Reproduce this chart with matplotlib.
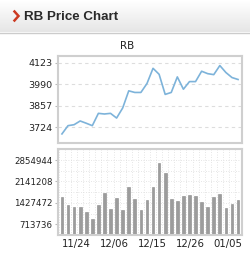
import numpy as np
import matplotlib
matplotlib.use('Agg')
import matplotlib.pyplot as plt

# RB daily close
prices = [3683, 3734, 3740, 3763, 3749, 3734, 3810, 3806, 3810, 3781,
          3843, 3949, 3939, 3939, 3994, 4088, 4051, 3927, 3939, 4035,
          3959, 4006, 4006, 4070, 4055, 4049, 4105, 4062, 4031, 4019]

# daily volume
volumes = [1614000, 1340000, 1285000, 1285000, 1131000, 889000, 1340000, 1757000,
           1219000, 1592000, 1197000, 1955000, 1570000, 1197000, 1515000, 1944000,
           2767000, 2416000, 1548000, 1504000, 1669000, 1691000, 1647000, 1449000,
           1285000, 1614000, 1713000, 1263000, 1394000, 1537000]

price_ticks = [3724, 3857, 3990, 4123]
vol_ticks = [713736, 1427472, 2141208, 2854944]
date_labels = ['11/24', '12/06', '12/15', '12/26', '01/05']
date_pos = [2.4, 8.7, 14.85, 21.2, 27.3]

W, H = 250, 263
fig = plt.figure(figsize=(W / 100, H / 100), dpi=100)
fig.patch.set_facecolor('white')

# header strip with a light gradient
hdr = fig.add_axes([0, 1 - 32 / H, 1, 32 / H])
grad = np.linspace(1.0, 0.9, 64).reshape(-1, 1)
hdr.imshow(grad, cmap='gray', vmin=0, vmax=1, aspect='auto', extent=[0, W, 32, 0])
hdr.set_xlim(0, W)
hdr.set_ylim(32, 0)
hdr.axis('off')
# red chevron
hdr.plot([14.5, 18.5, 14.5], [11.5, 16, 20.5], color='#cc3a22', lw=1.8,
         solid_joinstyle='miter')
hdr.text(24, 16.5, 'RB Price Chart', color='#2a2a2a', fontsize=9.6,
         fontweight='bold', va='center', ha='left', family='Liberation Sans')
fig.add_artist(plt.Line2D([0, 1], [1 - 32.5 / H, 1 - 32.5 / H], color='#cccccc', lw=1))

frame_col = '#cfcfcf'
x = np.arange(len(prices))


def style(ax, size):
    for s in ax.spines.values():
        s.set_color(frame_col)
        s.set_linewidth(1.5)
    ax.tick_params(axis='y', length=2, color='#bbbbbb', labelsize=size, pad=2,
                   labelcolor='#222222')
    ax.set_xlim(-0.65, len(prices) - 0.35)


ax1 = fig.add_axes([58 / W, 1 - 143 / H, 184 / W, 87 / H])
ax1.plot(x, prices, color='#7db3da', lw=1.2)
ax1.set_ylim(3627, 4164)
ax1.set_yticks(price_ticks)
ax1.set_yticklabels([str(t) for t in price_ticks])
ax1.set_xticks([])
for t in price_ticks:
    ax1.axhline(t, color='#dddddd', lw=0.8, ls=(0, (3, 3)), zorder=0)
style(ax1, 6.8)
fig.text(127 / W, 1 - 46 / H, 'RB', ha='center', va='center', fontsize=7.5,
         color='#222222')

ax2 = fig.add_axes([58 / W, 1 - 235 / H, 184 / W, 86 / H])
ax2.bar(x, volumes, width=0.45, color='#9c9c9c', edgecolor='#888888', lw=0.4,
        bottom=0, zorder=2)
ax2.set_ylim(357000, 3222000)
ax2.set_yticks(vol_ticks)
ax2.set_yticklabels([str(t) for t in vol_ticks])
for xv in np.arange(-0.5, len(prices), 1.0):
    ax2.axvline(xv, color='#dddddd', lw=0.6, ls=(0, (1, 2)), zorder=0)
for yv in np.arange(357000, 3222000, 357000):
    ax2.axhline(yv, color='#dddddd', lw=0.6, ls=(0, (1, 2)), zorder=0)
ax2.set_xticks(date_pos)
ax2.set_xticklabels(date_labels)
ax2.tick_params(axis='x', length=0, labelsize=7.3, pad=3, labelcolor='#222222')
style(ax2, 6.2)

fig.savefig('out.png', dpi=100)
